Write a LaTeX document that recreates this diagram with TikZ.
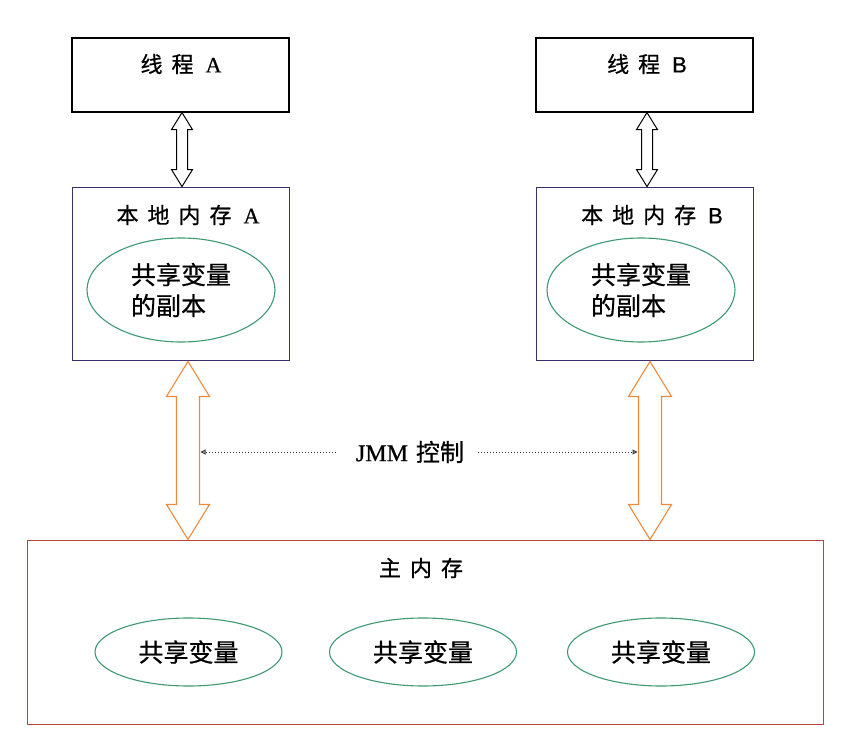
\documentclass[tikz,border=0pt]{standalone}
\usepackage{fontspec}
\setmainfont[FakeBold=0.7]{Noto Sans CJK SC}
\newfontfamily\serifA[FakeBold=0.7]{Liberation Serif}
\newfontfamily\sansB[FakeBold=0.7]{Liberation Sans}
\usetikzlibrary{calc,arrows.meta,shapes.geometric}
\definecolor{navy}{HTML}{3B2E6E}
\definecolor{mainred}{HTML}{B5453F}
\definecolor{egreen}{HTML}{3C9A6E}
\definecolor{orng}{HTML}{EE8A3C}
\tikzset{
  thread/.style={draw=black,line width=1.2pt,minimum width=217,minimum height=74,inner sep=0},
  localmem/.style={draw=navy,line width=0.9pt,minimum width=217,minimum height=173,inner sep=0},
  mainmem/.style={draw=mainred,line width=1pt,minimum width=796,minimum height=184,inner sep=0},
  var/.style={draw=egreen,line width=1.1pt,ellipse,minimum width=187,minimum height=68,inner sep=0,font=\fontsize{25}{28}\selectfont},
  copyvar/.style={draw=egreen,line width=1.1pt,ellipse,minimum width=188,minimum height=104,inner sep=0,font=\fontsize{25}{31}\selectfont,align=left},
  lbl/.style={font=\fontsize{22}{26}\selectfont,inner sep=0},
  blackarr/.style={draw=black,line width=1pt,fill=white,line join=miter},
  orangearr/.style={draw=orng,line width=1.1pt,fill=white,line join=miter},
  jmmline/.style={dotted,line width=1pt,black!80,-{Triangle[open,length=5pt,width=5pt]}},
}
% vertical double arrow between two coordinates: style, top, bottom, half head width, half shaft width, head length
\newcommand\vdblarrow[6]{%
  \draw[#1] let \p1=(#2), \p2=(#3) in
    (\x1,\y1) -- (\x1+#4,\y1-#6) -- (\x1+#5,\y1-#6) -- (\x1+#5,\y2+#6) -- (\x1+#4,\y2+#6)
    -- (\x1,\y2) -- (\x1-#4,\y2+#6) -- (\x1-#5,\y2+#6) -- (\x1-#5,\y1-#6) -- (\x1-#4,\y1-#6) -- cycle;}
\newcommand\gp{\hspace*{9pt}}
\newcommand\gq{\hspace*{12pt}}
\begin{document}
\begin{tikzpicture}[x=1pt,y=-1pt]
\useasboundingbox (0,0) rectangle (846,754);
% threads
\node[thread] (tA) at (180.5,75) {};
\node[lbl] (tAt) at (181,64) {线\gp 程\gq{\serifA A}};
\node[thread] (tB) at (644.5,75) {};
\node[lbl] (tBt) at (647,64) {线\gp 程\gq{\sansB B}};
% local memories
\node[localmem] (lA) at (180.5,273.5) {};
\node[lbl] (lAt) at (188,215) {本\gp 地\gp 内\gp 存\gq{\serifA A}};
\node[copyvar] (cA) at (181,290) {共享变量\\的副本};
\node[localmem] (lB) at (644.5,273.5) {};
\node[lbl] (lBt) at (652,215) {本\gp 地\gp 内\gp 存\gq{\sansB B}};
\node[copyvar] (cB) at (641,290) {共享变量\\的副本};
% main memory
\node[mainmem] (mm) at (425,632) {};
\node[lbl] (mmt) at (421,568) {主\gp 内\gp 存};
\node[var] (v1) at (188.5,652) {共享变量};
\node[var] (v2) at (423,652) {共享变量};
\node[var] (v3) at (661,652) {共享变量};
% black double arrows
\coordinate (aAt) at ($(tA.south)+(1.5,0)$);
\coordinate (aAb) at ($(lA.north)+(1.5,0)$);
\vdblarrow{blackarr}{aAt}{aAb}{10.5}{5.5}{17}
\coordinate (aBt) at ($(tB.south)+(2.5,0)$);
\coordinate (aBb) at ($(lB.north)+(2.5,0)$);
\vdblarrow{blackarr}{aBt}{aBb}{10.5}{5.5}{17}
% orange double arrows
\coordinate (oAt) at ($(lA.south)+(7.5,1)$);
\coordinate (oAb) at (oAt |- mm.north);
\vdblarrow{orangearr}{oAt}{oAb}{21.5}{11.5}{35}
\coordinate (oBt) at ($(lB.south)+(5.5,1)$);
\coordinate (oBb) at (oBt |- mm.north);
\vdblarrow{orangearr}{oBt}{oBb}{21.5}{11.5}{35}
% JMM control
\node[lbl,font=\fontsize{24}{28}\selectfont] (jmm) at (410,452) {{\serifA JMM}\hspace*{8pt}控制};
\coordinate (jl) at ($(oAt)+(12.5,0)$);
\coordinate (jr) at ($(oBt)+(-12.5,0)$);
\draw[jmmline] ($(jmm.west)+(-20,0)$) -- (jl |- jmm.west);
\draw[jmmline] ($(jmm.east)+(14,0)$) -- (jr |- jmm.east);
\end{tikzpicture}
\end{document}
